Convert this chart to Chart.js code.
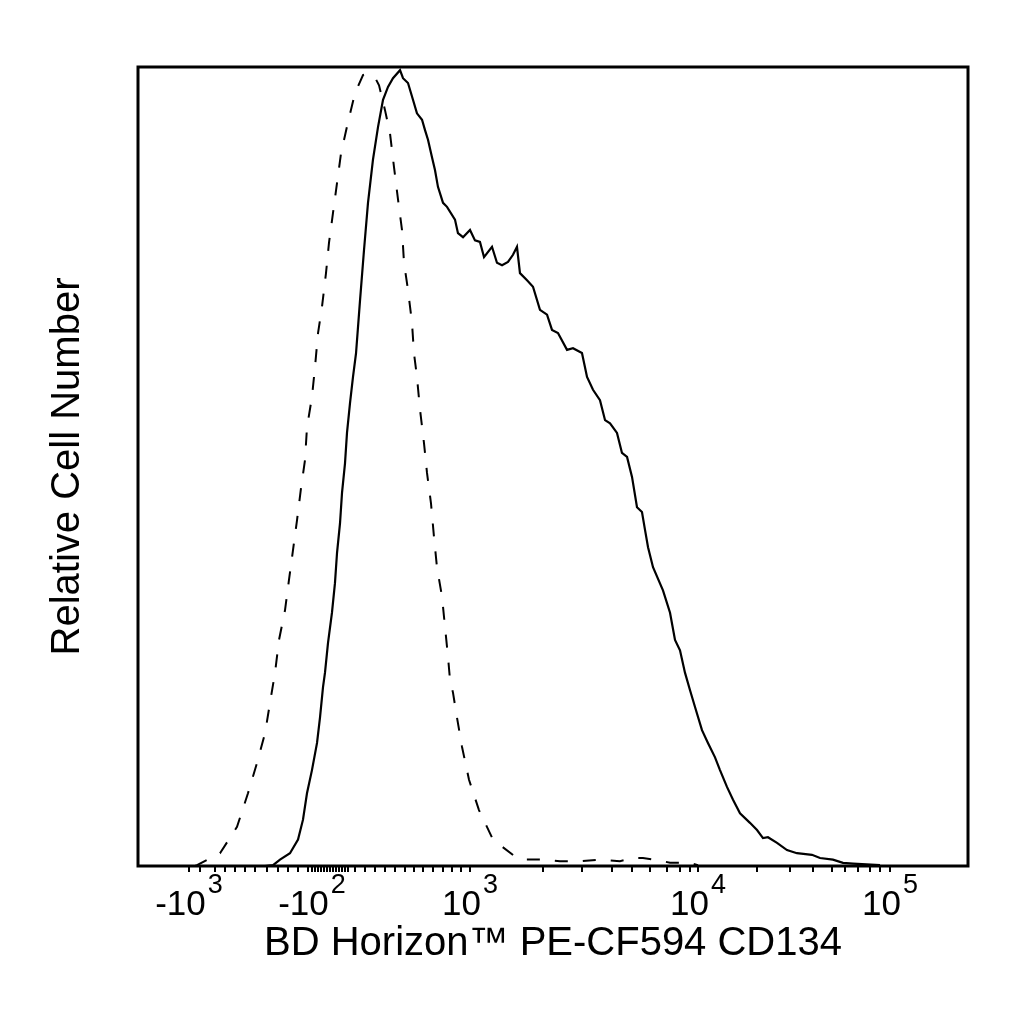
<!DOCTYPE html>
<html>
<head>
<meta charset="utf-8">
<title>PE-CF594 CD134 histogram</title>
<script src="https://cdn.jsdelivr.net/npm/chart.js@4.4.0/dist/chart.umd.min.js"></script>
<style>
  html, body { margin: 0; padding: 0; background: #fff; }
  canvas { display: block; }
</style>
</head>
<body>
<canvas id="histo" width="1024" height="1024"></canvas>
<script>
// x values are display channels (0-1000 across the plot), y is % of the tallest bin

// dashed: unstained / isotype control
const ctrlX = [68.7, 71.1, 98.8, 119.3, 132.5, 143.4, 153.0, 159.0, 165.1, 169.9, 177.1, 181.9, 186.7, 191.6, 196.4, 201.2, 203.6, 209.6, 213.3, 216.9, 221.7, 226.5, 230.1, 234.9, 239.8, 244.6, 253.0, 261.4, 271.1, 277.1, 285.5, 290.4, 297.6, 303.6, 308.4, 313.3, 318.1, 320.5, 325.3, 330.1, 332.5, 336.1, 339.8, 344.6, 348.2, 353.0, 356.6, 360.2, 366.3, 369.9, 373.5, 375.9, 379.5, 384.3, 390.4, 398.8, 410.8, 427.7, 456.6, 466.3, 484.3, 508.4, 532.5, 556.6, 580.7, 596.4, 608.4, 632.5, 641.0, 665.1, 674.7];
const ctrlY = [0, 0.1, 1.6, 4.9, 9.1, 12.9, 16.6, 20.4, 24.2, 28.3, 32.0, 35.8, 39.5, 43.3, 47.3, 50.8, 54.9, 58.7, 62.5, 66.7, 70.0, 74.2, 78.0, 81.7, 85.5, 89.2, 93.1, 96.7, 99.0, 99.2, 98.7, 97.7, 94.6, 91.7, 87.5, 83.4, 79.6, 75.5, 72.1, 68.0, 64.2, 61.2, 57.1, 52.9, 49.2, 45.4, 41.2, 37.4, 33.7, 29.9, 26.2, 23.3, 21.7, 18.6, 14.9, 10.8, 7.0, 3.3, 1.0, 0.8, 0.8, 0.6, 0.6, 0.8, 0.6, 1.0, 1.0, 0.6, 0.4, 0.4, 0.1];

// solid: CD134 stained cells
const stainX = [153.0, 162.7, 171.1, 183.1, 192.8, 198.8, 203.6, 209.6, 215.7, 219.3, 222.9, 225.3, 228.9, 233.7, 237.3, 239.8, 243.4, 245.8, 249.4, 251.8, 255.4, 259.0, 262.7, 267.5, 272.3, 277.1, 283.1, 289.2, 295.2, 301.2, 307.2, 315.7, 319.3, 325.3, 331.3, 336.1, 342.2, 345.8, 349.4, 354.2, 357.8, 361.4, 367.5, 372.3, 381.9, 385.5, 391.6, 400.0, 406.0, 412.0, 416.9, 426.5, 432.5, 438.6, 445.8, 451.8, 456.6, 460.2, 468.7, 475.9, 484.3, 492.8, 498.8, 506.0, 516.9, 524.1, 534.9, 541.0, 548.2, 556.6, 562.7, 568.7, 577.1, 583.1, 589.2, 595.2, 601.2, 607.2, 610.8, 614.5, 620.5, 632.5, 641.0, 647.0, 653.0, 659.0, 665.1, 671.1, 679.5, 686.7, 695.2, 701.2, 709.6, 716.9, 725.3, 737.3, 745.8, 753.0, 759.0, 769.9, 781.9, 793.9, 812.0, 821.7, 837.3, 849.4, 861.4, 894.0];
const stainY = [0, 0.1, 0.8, 1.6, 3.3, 5.8, 9.1, 12.0, 15.4, 18.6, 22.4, 24.2, 27.9, 31.7, 35.4, 39.2, 42.9, 46.7, 50.4, 54.2, 57.9, 61.2, 64.2, 70.8, 77.1, 83.0, 88.4, 92.5, 95.9, 97.5, 98.6, 99.6, 98.6, 98.0, 95.9, 94.2, 93.4, 92.1, 90.9, 88.7, 87.1, 85.0, 83.0, 82.5, 80.9, 79.2, 78.7, 79.6, 78.3, 78.1, 76.2, 77.5, 75.5, 75.2, 75.6, 76.5, 77.5, 74.2, 73.3, 72.5, 69.6, 69.0, 67.1, 66.7, 64.6, 64.8, 64.2, 61.2, 59.6, 58.3, 55.8, 55.4, 54.2, 51.7, 51.2, 48.7, 44.9, 44.3, 42.1, 39.9, 37.4, 34.5, 31.7, 28.3, 27.0, 24.2, 22.0, 19.9, 17.0, 15.4, 13.6, 12.0, 9.9, 8.3, 6.6, 5.4, 4.5, 3.5, 3.6, 2.9, 2.0, 1.6, 1.4, 1.0, 0.8, 0.4, 0.3, 0.1];

// biexponential axis: labelled decades and the unlabelled minor ticks
const majorTicks = [61.4, 209.6, 400.0, 674.7, 906.0];
const tickBase = ['-10', '-10', '10', '10', '10'];
const tickExp = ['3', '2', '3', '4', '5'];
const minorTicks = [74.7, 92.8, 104.8, 116.9, 128.9, 141.0, 155.4, 168.7, 180.7, 192.8, 204.8,
  213.3, 216.9, 220.5, 224.1, 227.7, 231.3, 234.9, 238.6, 242.2, 245.8, 249.4, 253.0,
  261.4, 273.5, 285.5, 297.6, 309.6, 321.7, 332.5, 343.4, 355.4, 367.5, 378.3, 389.2,
  488.0, 534.9, 571.1, 595.2, 616.9, 637.3, 653.0, 665.1,
  745.8, 785.5, 813.3, 836.1, 851.8, 867.5, 882.0, 894.0];

const FONT = '"Liberation Sans", Arial, Helvetica, sans-serif';

const toPoints = (xs, ys) => xs.map((x, i) => ({ x, y: ys[i] }));

// frame around the plot + "10^n" style decade labels
const frameAndLabels = {
    id: 'frameAndLabels',
    afterDraw(chart) {
        const { ctx, chartArea: a, scales: { x } } = chart;
        ctx.save();
        ctx.strokeStyle = '#000';
        ctx.lineWidth = 3;
        ctx.strokeRect(a.left, a.top, a.right - a.left, a.bottom - a.top);

        ctx.fillStyle = '#000';
        ctx.textAlign = 'left';
        ctx.textBaseline = 'alphabetic';
        const baseFont = '35px ' + FONT;
        const supFont = '27px ' + FONT;
        majorTicks.forEach((v, i) => {
            ctx.font = baseFont;
            const wb = ctx.measureText(tickBase[i]).width;
            ctx.font = supFont;
            const ws = ctx.measureText(tickExp[i]).width;
            const gap = 2;
            const left = x.getPixelForValue(v) - (wb + gap + ws) / 2;

            ctx.font = baseFont;
            ctx.fillText(tickBase[i], left, a.bottom + 49);
            ctx.font = supFont;
            ctx.fillText(tickExp[i], left + wb + gap, a.bottom + 27);
        });
        ctx.restore();
    },
};

new Chart(document.getElementById('histo'), {
    type: 'line',
    data: {
        datasets: [
            {
                label: 'Control',
                data: toPoints(ctrlX, ctrlY),
                borderColor: '#000',
                borderWidth: 2,
                borderDash: [13, 15],
                pointRadius: 0,
                tension: 0,
                fill: false,
            },
            {
                label: 'CD134',
                data: toPoints(stainX, stainY),
                borderColor: '#000',
                borderWidth: 2.2,
                pointRadius: 0,
                tension: 0,
                fill: false,
            },
        ],
    },
    options: {
        responsive: false,
        devicePixelRatio: 1,
        animation: false,
        layout: { padding: { left: 0, top: 67, right: 56, bottom: 56 } },
        plugins: {
            legend: { display: false },
            tooltip: { enabled: false },
        },
        scales: {
            x: {
                type: 'linear',
                min: 0,
                max: 1000,
                afterBuildTicks: (scale) => {
                    scale.ticks = majorTicks.concat(minorTicks)
                        .sort((a, b) => a - b)
                        .map((value) => ({ value }));
                },
                ticks: { display: false },
                grid: {
                    display: true,
                    drawOnChartArea: false,
                    drawTicks: true,
                    tickLength: 6,
                    color: '#000',
                    lineWidth: 2,
                },
                border: { display: false },
                title: {
                    display: true,
                    text: 'BD Horizon™ PE-CF594 CD134',
                    color: '#000',
                    font: { family: FONT, size: 40, lineHeight: 1.2 },
                    padding: { top: 48, bottom: 0 },
                },
            },
            y: {
                min: 0,
                max: 100,
                ticks: { display: false },
                grid: { display: false, drawTicks: false },
                border: { display: false },
                title: {
                    display: true,
                    text: 'Relative Cell Number',
                    color: '#000',
                    font: { family: FONT, size: 40, lineHeight: 1.2 },
                    padding: { top: 44, bottom: 46 },
                },
            },
        },
    },
    plugins: [frameAndLabels],
});
</script>
</body>
</html>
